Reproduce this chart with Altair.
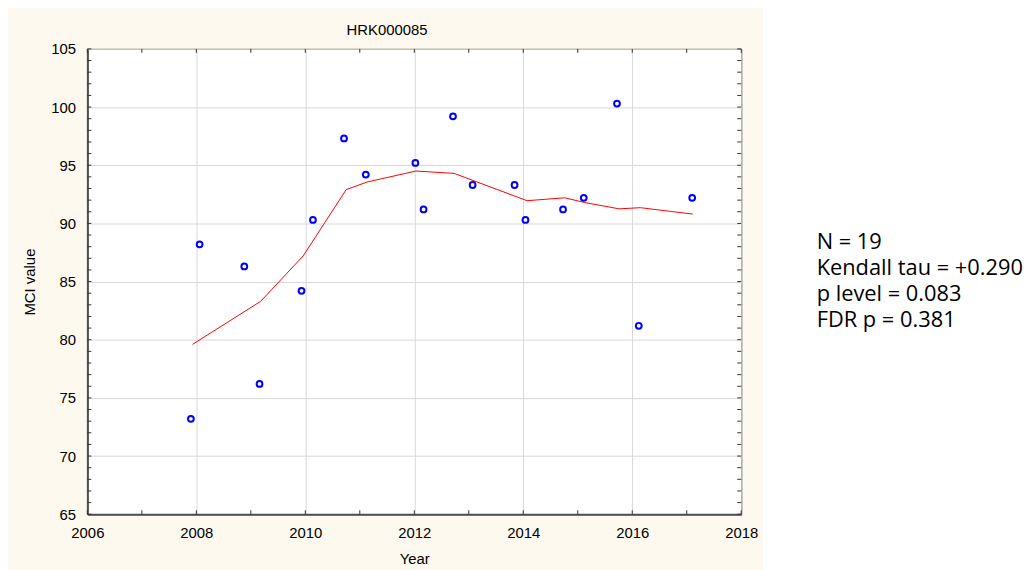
import altair as alt
import pandas as pd

# ---- data ----
years = [2007.90, 2008.06, 2008.88, 2009.16, 2009.93, 2010.14, 2010.71, 2011.11,
         2012.02, 2012.17, 2012.71, 2013.07, 2013.84, 2014.04, 2014.73, 2015.11,
         2015.72, 2016.12, 2017.10]
mci = [73.2, 88.2, 86.3, 76.2, 84.2, 90.3, 97.3, 94.2,
       95.2, 91.2, 99.2, 93.3, 93.3, 90.3, 91.2, 92.2,
       100.3, 81.2, 92.2]

smooth_years = [2007.93, 2009.18, 2009.96, 2010.75, 2011.13, 2012.03, 2012.73,
                2014.07, 2014.76, 2015.12, 2015.76, 2016.15, 2017.11]
smooth_mci = [79.6, 83.3, 87.2, 92.9, 93.55, 94.5, 94.3,
              91.95, 92.2, 91.8, 91.25, 91.35, 90.8]

x_major = [2006, 2008, 2010, 2012, 2014, 2016, 2018]
x_minor = list(range(2006, 2019))
y_major = [65, 70, 75, 80, 85, 90, 95, 100, 105]
y_minor = list(range(65, 106))

title_text = "HRK000085"
x_title = "Year"
y_title = "MCI value"
stats_lines = ["N = 19", "Kendall tau = +0.290", "p level = 0.083", "FDR p = 0.381"]

# ---- layout ----
W, H = 659, 469
CREAM = "#fdf9ee"
FONT = "Liberation Sans"

pts = pd.DataFrame({"year": years, "mci": mci})
smooth = pd.DataFrame({"year": smooth_years, "mci": smooth_mci})
xt = pd.DataFrame({"year": x_minor})
yt = pd.DataFrame({"mci": y_minor})
one = pd.DataFrame({"a": [0]})

x_scale = alt.Scale(domain=[2006, 2018], nice=False, zero=False)
y_scale = alt.Scale(domain=[65, 105], nice=False, zero=False)

x_axis = alt.Axis(values=x_major, format="d", tickSize=0, labelFont=FONT, labelFontSize=15,
                  labelColor="black", labelFlush=False, labelOverlap=False, labelPadding=11,
                  title=x_title, titleFont=FONT, titleFontSize=15, titleFontWeight="normal",
                  titleColor="black", titlePadding=12, grid=True, gridColor="#d9d9d9",
                  domainColor="#505050", domainWidth=2)
y_axis = alt.Axis(values=y_major, tickSize=0, labelFont=FONT, labelFontSize=15,
                  labelColor="black", labelFlush=False, labelOverlap=False, labelPadding=12,
                  title=y_title, titleFont=FONT, titleFontSize=15, titleFontWeight="normal",
                  titleColor="black", titlePadding=13, grid=True, gridColor="#d9d9d9",
                  domainColor="#505050", domainWidth=2)

X = alt.X("year:Q", scale=x_scale, axis=x_axis)
Y = alt.Y("mci:Q", scale=y_scale, axis=y_axis)

white_box = alt.Chart(one).mark_rect(color="white").encode(
    x=alt.value(681), x2=alt.value(990), y=alt.value(-50), y2=alt.value(H + 70))

title = alt.Chart(one).mark_text(align="center", baseline="middle", font=FONT,
                                 fontSize=15, color="black").encode(
    x=alt.value(302), y=alt.value(-19), text=alt.value(title_text))

stats = alt.Chart(one).mark_text(align="left", baseline="middle", font="Open Sans",
                                 fontSize=22, lineHeight=26, color="black").encode(
    x=alt.value(735), y=alt.value(195), text=alt.value(stats_lines))

xt_bottom = alt.Chart(xt).mark_rule(color="#333", strokeWidth=1).encode(
    x=X, y=alt.value(H), y2=alt.value(H - 4))
xt_top = alt.Chart(xt).mark_rule(color="#333", strokeWidth=1).encode(
    x=X, y=alt.value(0), y2=alt.value(4))
yt_left = alt.Chart(yt).mark_rule(color="#333", strokeWidth=1).encode(
    y=Y, x=alt.value(0), x2=alt.value(4))
yt_right = alt.Chart(yt).mark_rule(color="#333", strokeWidth=1).encode(
    y=Y, x=alt.value(W), x2=alt.value(W - 4))

line = alt.Chart(smooth).mark_line(color="#ff0000", strokeWidth=1).encode(x=X, y=Y)

points = alt.Chart(pts).mark_point(shape="circle", filled=False, color="#0000ff",
                                   size=34, strokeWidth=2, opacity=1).encode(x=X, y=Y)

chart = alt.layer(white_box, title, stats, xt_bottom, xt_top, yt_left, yt_right,
                  line, points).properties(
    width=W, height=H,
    background=CREAM,
    autosize=alt.AutoSizeParams(type="none"),
    padding={"left": 80, "top": 39, "right": 284, "bottom": 54},
).configure_view(stroke="#000", strokeWidth=1, fill="white")

chart.save("out.html", embed_options={"renderer": "svg", "actions": False})
